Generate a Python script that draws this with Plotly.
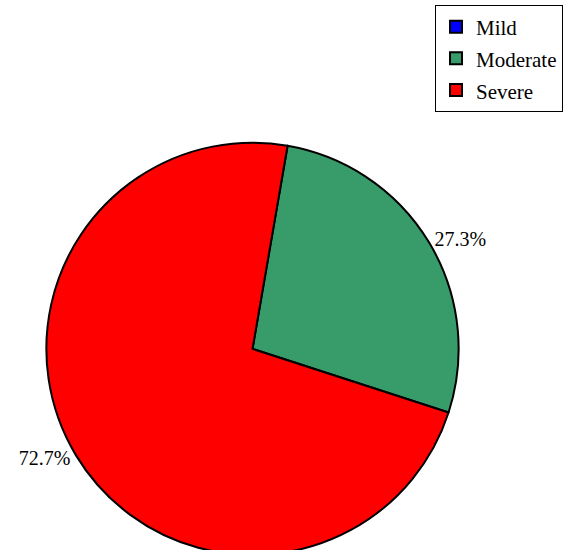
import plotly.graph_objects as go

labels = ["Mild", "Moderate", "Severe"]
values = [0, 3, 8]
colors = ["#0000FF", "#379B6A", "#FF0000"]
label_fmt = ["", "%{percent:.1%}", "%{percent:.1%}"]

SERIF = "Liberation Serif, Times New Roman, serif"
legend_names = ['<span style="font-size:21px">%s</span>' % s for s in labels]

W, H = 563, 560

fig = go.Figure(go.Pie(
    labels=legend_names,
    values=values,
    sort=False,
    direction="clockwise",
    rotation=9.8,
    marker=dict(colors=colors, line=dict(color="black", width=2)),
    texttemplate=label_fmt,
    textposition="outside",
    textfont=dict(family=SERIF, size=20, color="black"),
    domain=dict(x=[45/W, 460/W], y=[0, 416/H]),
    showlegend=True,
    hoverinfo="skip",
))

fig.update_layout(
    width=W, height=H,
    margin=dict(l=0, r=0, t=0, b=0),
    paper_bgcolor="white",
    font=dict(family=SERIF, size=20, color="black"),
    legend=dict(x=1, y=1 - 5/H, xanchor="right", yanchor="top",
                bgcolor="white", bordercolor="black", borderwidth=1,
                font=dict(family=SERIF, size=22, color="black")),
)

fig.write_html("out.html", config={"displayModeBar": False},
               post_script="document.body.style.margin='0';document.body.style.overflow='hidden';")
